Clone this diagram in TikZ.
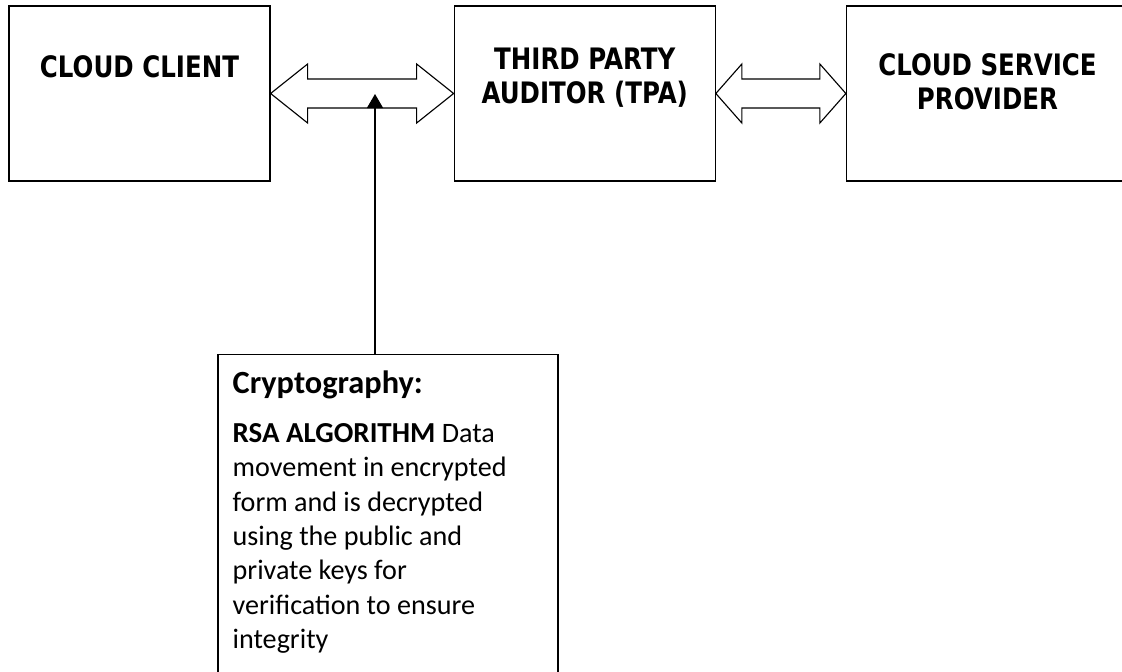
\documentclass[tikz,border=0pt]{standalone}
\usepackage{fontspec}
\setmainfont{Carlito}
\newfontfamily\headfont[FakeStretch=0.83]{DejaVu Sans}
\usetikzlibrary{calc,positioning,arrows.meta}
\def\fatarrow[#1](#2)(#3)(#4){\draw[#1] (#2.east) -- ++(#4,-29.5) -- ++(0,15) -- ($(#3.west)+(-#4,-14.5)$) -- ++(0,-15) -- (#3.west) -- ++(-#4,29.5) -- ++(0,-15) -- ($(#2.east)+(#4,14.5)$) -- ++(0,15) -- cycle;}

\begin{document}
\begin{tikzpicture}[x=0.025cm, y=-0.025cm,
		box/.style={draw, line width=0.8pt, minimum height=4.375cm, inner sep=0pt},
		headtext/.style={align=center, inner sep=0pt, font=\headfont\bfseries\fontsize{21}{24.2}\selectfont},
		bodytext/.style={align=left, inner sep=0pt, font=\fontsize{20}{24.4}\selectfont},
		fat/.style={line width=0.8pt, fill=white},
		link/.style={line width=0.8pt, -{Triangle[length=0.35cm, width=0.4cm]}}]
			%%%%% START %%%%%
			
			\clip (0, 0) rectangle (1122, 671);
			
			\node[box, minimum width=6.525cm] (client) at (139.5, 93.5) {};
			\node[box, minimum width=6.525cm, right=4.575cm of client] (tpa) {};
			\node[box, minimum width=7.05cm, right=3.25cm of tpa] (csp) {};
			\node[box, minimum width=8.5cm, minimum height=8.65cm, anchor=north] (crypto) at (388, 354) {};
			
			\node[headtext, below=1.25cm of client.north] (clientlbl) {CLOUD CLIENT};
			\node[headtext, below=1.05cm of tpa.north] (tpalbl) {THIRD PARTY\\AUDITOR (TPA)};
			\node[headtext, below=1.2cm of csp.north] (csplbl) {CLOUD SERVICE\\PROVIDER};
			
			\node[bodytext, below right=0.42cm and 0.375cm of crypto.north west] (cryptotext) {{\fontsize{23}{24.4}\selectfont\textbf{Cryptography:}}\\[0.36cm]
				{\fontsize{20.6}{24.4}\selectfont\textbf{RSA ALGORITHM}} Data\\
				movement in encrypted\\
				form and is decrypted\\
				using the public and\\
				private keys for\\
				verification to ensure\\
				integrity};
			
			\fatarrow[fat](client)(tpa)(37)
			\fatarrow[fat](tpa)(csp)(26)
			
			\coordinate (tap) at (375, 94);
			\draw[link] (crypto.north -| tap) -- (tap);
			
			%%%%% END %%%%%
\end{tikzpicture}
\end{document}
